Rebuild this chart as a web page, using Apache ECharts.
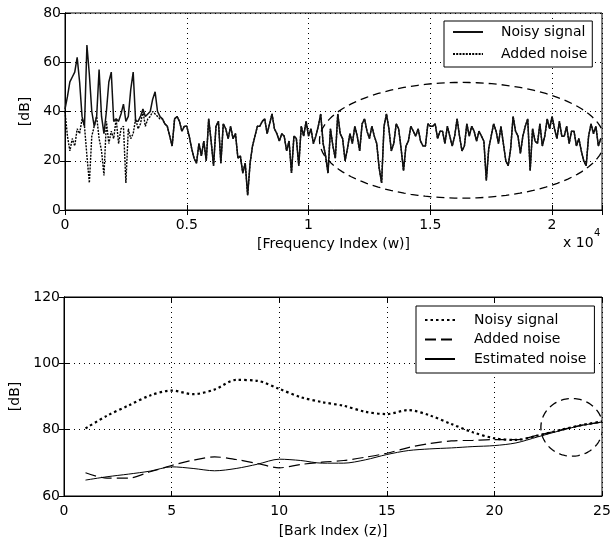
<!DOCTYPE html>
<html>
<head>
    <meta charset="utf-8">
    <title>Noise spectrum</title>
    <script src="https://cdn.jsdelivr.net/npm/echarts@6/dist/echarts.min.js"></script>
    <style>
        html, body { margin: 0; padding: 0; background: #fff; }
    </style>
</head>
<body>
<div id="main" style="width: 614px;height:548px;"></div>
<script type="text/javascript">
    // top plot: samples every FREQ_STEP frequency bins, values in dB
    const FREQ_STEP = 100;
    const addedNoiseTop = [
        40, 30, 24, 29, 26, 33, 31, 37, 34, 22,
        11, 30, 34, 38, 29, 24, 14, 36, 27, 32,
        29, 37, 27, 33, 34, 11, 33, 29, 31, 37,
        33, 35, 40, 34, 37, 38, 40, 39, 38, 37,
        37, 35, 34, 30, 26, 37, 38, 36, 32, 34,
        34, 30, 25, 21, 19, 27, 22, 28, 20, 37,
        28, 18, 34, 36, 19, 35, 33, 29, 34, 29,
        31, 21, 22, 15, 19, 6, 19, 26, 30, 34,
        34, 36, 37, 31, 35, 39, 33, 31, 28, 31,
        30, 24, 28, 15, 30, 29, 18, 34, 30, 36,
        30, 33, 27, 30, 34, 39, 27, 22, 15, 33,
        26, 21, 39, 31, 29, 20, 25, 31, 27, 34,
        30, 24, 35, 37, 32, 29, 34, 30, 27, 17,
        11, 34, 39, 33, 24, 27, 35, 33, 25, 16,
        26, 28, 34, 32, 30, 33, 28, 26, 26, 35,
        34, 34, 35, 29, 32, 32, 27, 34, 30, 26,
        30, 37, 30, 24, 26, 35, 30, 34, 32, 28,
        32, 30, 28, 12, 25, 30, 35, 32, 27, 34,
        27, 20, 18, 25, 38, 32, 30, 23, 30, 34,
        37, 16, 33, 28, 27, 35, 26, 30, 37, 33,
        38, 33, 29, 36, 30, 30, 34, 27, 32, 32,
        26, 29, 24, 20, 18, 30, 35, 31, 34, 26,
        29
    ];
    // below 4000 the noisy signal carries the speech peaks; above it follows the noise
    const noisySignalLow = [
        41, 46, 52, 54, 56, 62, 52, 38, 34, 67,
        55, 40, 34, 38, 57, 38, 31, 40, 52, 56,
        36, 37, 36, 39, 43, 36, 38, 49, 56, 36,
        36, 38, 41, 38, 39, 40, 45, 48, 40, 38,
        37
    ];
    const noisySignalTop = noisySignalLow.concat(addedNoiseTop.slice(noisySignalLow.length));

    // bottom plot: bark bands
    const barkIndex = [1, 2, 3, 4, 5, 6, 7, 8, 9, 10, 11, 12, 13, 14, 15, 16, 17, 18, 19, 20, 21, 22, 23, 24, 25];
    const noisySignalBark = [80.4, 84.2, 87.3, 90.3, 91.8, 90.7, 92.1, 95.0, 94.7, 92.3, 89.8, 88.3, 87.2, 85.4, 84.7, 85.9, 84.3, 81.7, 79.2, 77.4, 76.9, 78.2, 79.8, 81.3, 82.5];
    const addedNoiseBark = [67.0, 65.4, 65.4, 67.3, 69.2, 70.8, 71.8, 71.0, 69.8, 68.5, 69.5, 70.2, 70.7, 71.7, 72.9, 74.6, 75.8, 76.6, 76.8, 77.0, 77.0, 78.3, 79.8, 81.3, 82.3];
    const estimatedNoiseBark = [64.8, 65.8, 66.6, 67.5, 68.8, 68.3, 67.6, 68.3, 69.6, 71.1, 70.7, 69.9, 69.9, 70.9, 72.5, 73.7, 74.2, 74.5, 74.9, 75.2, 76.0, 77.8, 79.6, 81.2, 82.3];

    // dashed annotations: [centre x, centre y, radius x, radius y] in data units
    const topEllipse = [16300, 28.3, 5850, 23.5];
    const bottomCircle = [23.6, 80.7, 1.44, 8.7];

    const FONT = 'DejaVu Sans';
    const legendNames = {
        b_noisy: 'Noisy signal',
        b_added: 'Added noise',
        b_est: 'Estimated noise'
    };

    function pairs(xs, ys) {
        return ys.map(function (v, i) { return [xs[i], v]; });
    }
    function sampled(ys) {
        return ys.map(function (v, i) { return [i * FREQ_STEP, v]; });
    }

    function ellipseItem(params, api) {
        const c = api.coord([api.value(0), api.value(1)]);
        const s = api.size([api.value(2), api.value(3)]);
        const pts = [];
        for (let k = 0; k <= 120; k++) {
            const t = k / 120 * Math.PI * 2;
            pts.push([c[0] + s[0] * Math.cos(t), c[1] + s[1] * Math.sin(t)]);
        }
        return {
            type: 'polyline',
            shape: { points: pts },
            style: { stroke: '#000', lineWidth: 1.3, lineDash: [8, 5], fill: null }
        };
    }

    function mainX(grid, opts) {
        return Object.assign({
            type: 'value',
            gridIndex: grid,
            position: 'bottom',
            axisLine: { lineStyle: { color: '#000', width: 1 } },
            axisTick: { inside: true, length: 5, lineStyle: { color: '#000' } },
            axisLabel: { color: '#000', fontSize: 14, fontFamily: FONT, margin: 8 },
            splitLine: { show: true, lineStyle: { color: '#000', type: [1, 4], width: 1 } },
            nameLocation: 'middle',
            nameTextStyle: { color: '#000', fontSize: 14, fontFamily: FONT }
        }, opts);
    }
    function mainY(grid, opts) {
        return Object.assign({
            type: 'value',
            gridIndex: grid,
            position: 'left',
            axisLine: { show: true, lineStyle: { color: '#000', width: 1 } },
            axisTick: { show: true, inside: true, length: 5, lineStyle: { color: '#000' } },
            axisLabel: { color: '#000', fontSize: 14, fontFamily: FONT, margin: 4 },
            splitLine: { show: true, lineStyle: { color: '#000', type: [1, 4], width: 1 } },
            name: '[dB]',
            nameLocation: 'middle',
            nameTextStyle: { color: '#000', fontSize: 14, fontFamily: FONT }
        }, opts);
    }
    // mirrored axes on top/right with ticks only
    function mirror(grid, pos, min, max, interval) {
        return {
            type: 'value', gridIndex: grid, position: pos, min: min, max: max, interval: interval,
            axisLine: { show: true, lineStyle: { color: '#000' } },
            axisTick: { show: true, inside: true, length: 5, lineStyle: { color: '#000' } },
            axisLabel: { show: false },
            splitLine: { show: false }
        };
    }

    const legendBase = {
        orient: 'vertical',
        itemWidth: 30, itemHeight: 14,
        borderColor: '#000', borderWidth: 1, backgroundColor: '#fff',
        selectedMode: false,
        itemStyle: { opacity: 0 },
        lineStyle: { inactiveColor: '#000' }
    };

    let myChart = echarts.init(document.getElementById('main'));
    myChart.setOption({
        animation: false,
        backgroundColor: '#fff',
        textStyle: { fontFamily: FONT },
        grid: [
            { left: 65, right: 12, top: 13, height: 197, show: true, borderColor: '#000', borderWidth: 1 },
            { left: 64, right: 12, top: 297, height: 199, show: true, borderColor: '#000', borderWidth: 1 }
        ],
        xAxis: [
            mainX(0, {
                min: 0, max: 22050, interval: 5000,
                name: '[Frequency Index (w)]', nameGap: 27,
                axisLabel: {
                    color: '#000', fontSize: 14, fontFamily: FONT, margin: 8,
                    formatter: function (v) { return v % 5000 === 0 ? String(v / 10000) : ''; }
                }
            }),
            mirror(0, 'top', 0, 22050, 5000),
            mainX(1, { min: 0, max: 25, interval: 5, name: '[Bark Index (z)]', nameGap: 28 }),
            mirror(1, 'top', 0, 25, 5)
        ],
        yAxis: [
            mainY(0, { min: 0, max: 80, interval: 20, nameGap: 33 }),
            mirror(0, 'right', 0, 80, 20),
            mainY(1, { min: 60, max: 120, interval: 20, nameGap: 41 }),
            mirror(1, 'right', 60, 120, 20)
        ],
        legend: [
            Object.assign({}, legendBase, {
                data: ['Noisy signal', 'Added noise'],
                left: 444, top: 21, itemGap: 8,
                padding: [4, 5, 6, 8],
                textStyle: { color: '#000', fontSize: 14, fontFamily: FONT, padding: [0, 0, 0, 13] }
            }),
            Object.assign({}, legendBase, {
                data: ['b_noisy', 'b_added', 'b_est'],
                formatter: function (n) { return legendNames[n]; },
                left: 416, top: 306, itemGap: 5.5,
                padding: [7, 8, 7, 8],
                textStyle: { color: '#000', fontSize: 14, fontFamily: FONT, padding: [0, 0, 0, 14] }
            })
        ],
        graphic: [
            { type: 'text', left: 563, top: 236, style: { text: 'x 10', font: '14px "DejaVu Sans"', fill: '#000' } },
            { type: 'text', left: 594, top: 228, style: { text: '4', font: '10px "DejaVu Sans"', fill: '#000' } }
        ],
        series: [
            {
                name: 'Added noise', type: 'line', xAxisIndex: 0, yAxisIndex: 0,
                data: sampled(addedNoiseTop), symbol: 'none', z: 2,
                itemStyle: { color: '#000' },
                lineStyle: { color: '#000', width: 1.4, type: [2, 1.2] }
            },
            {
                name: 'Noisy signal', type: 'line', xAxisIndex: 0, yAxisIndex: 0,
                data: sampled(noisySignalTop), symbol: 'none', z: 3,
                itemStyle: { color: '#111' },
                lineStyle: { color: '#111', width: 1.5 }
            },
            {
                type: 'custom', xAxisIndex: 0, yAxisIndex: 0, clip: true, z: 4,
                renderItem: ellipseItem, encode: { x: 0, y: 1 },
                data: [topEllipse]
            },
            {
                name: 'b_noisy', type: 'line', xAxisIndex: 2, yAxisIndex: 2,
                data: pairs(barkIndex, noisySignalBark), symbol: 'none', smooth: 0.3,
                itemStyle: { color: '#000' },
                lineStyle: { color: '#000', width: 2.2, type: [2.5, 3] }
            },
            {
                name: 'b_added', type: 'line', xAxisIndex: 2, yAxisIndex: 2,
                data: pairs(barkIndex, addedNoiseBark), symbol: 'none', smooth: 0.3,
                itemStyle: { color: '#000' },
                lineStyle: { color: '#000', width: 1.2, type: [11, 5] }
            },
            {
                name: 'b_est', type: 'line', xAxisIndex: 2, yAxisIndex: 2,
                data: pairs(barkIndex, estimatedNoiseBark), symbol: 'none', smooth: 0.3,
                itemStyle: { color: '#000' },
                lineStyle: { color: '#000', width: 1 }
            },
            {
                type: 'custom', xAxisIndex: 2, yAxisIndex: 2, clip: true, z: 4,
                renderItem: ellipseItem, encode: { x: 0, y: 1 },
                data: [bottomCircle]
            }
        ]
    });
</script>
</body>
</html>
